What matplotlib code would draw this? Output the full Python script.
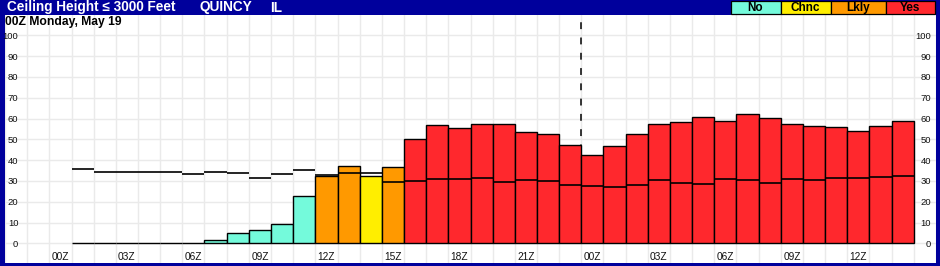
import numpy as np
import matplotlib
matplotlib.use("Agg")
import matplotlib.pyplot as plt
import matplotlib.transforms as mtransforms
from matplotlib.patches import Rectangle

plt.rcParams['font.family'] = ['Liberation Sans', 'DejaVu Sans']

# ---------------- data ----------------
hours = list(range(39))  # forecast hours from 00Z Monday
prob = [np.nan, 0, 0, 0, 0, 0, 0, 1.4, 4.8, 6.5, 9.1, 22.6,
        32.5, 37.0, 32.2, 36.5, 50.0, 56.7, 55.3, 57.2, 57.2, 53.4, 52.4, 47.1,
        42.3, 46.6, 52.4, 57.2, 58.2, 60.6, 58.7, 62.0, 60.1, 57.2, 56.3, 55.8,
        53.8, 56.3, 58.7]
second = [np.nan, 35.6, 34.1, 34.1, 34.1, 34.1, 33.2, 34.1, 33.6, 31.2, 33.2, 35.1,
          32.9, 33.8, 33.8, 29.3, 30.0, 30.8, 30.8, 31.2, 29.3, 30.3, 29.8, 27.9,
          27.4, 26.9, 27.9, 30.3, 28.8, 28.4, 30.8, 30.3, 28.8, 30.8, 30.3, 31.2,
          31.2, 31.7, 32.2]
category = [None] + ['No'] * 11 + ['Lkly', 'Lkly', 'Chnc', 'Lkly'] + ['Yes'] * 23
tick_hours = [0, 3, 6, 9, 12, 15, 18, 21, 24, 27, 30, 33, 36]
tick_labels = ['00Z', '03Z', '06Z', '09Z', '12Z', '15Z', '18Z', '21Z',
               '00Z', '03Z', '06Z', '09Z', '12Z']
y_ticks = [0, 10, 20, 30, 40, 50, 60, 70, 80, 90, 100]
legend_names = ['No', 'Chnc', 'Lkly', 'Yes']
title = 'Ceiling Height \u2264 3000 Feet'
station = 'QUINCY'
state = 'IL'
subtitle = '00Z Monday, May 19'
day_break = 23.5

colors = {'No': '#74FADB', 'Chnc': '#FFEE00', 'Lkly': '#FF9900', 'Yes': '#FF282D'}

# ---------------- figure ----------------
W, H = 940, 266
fig = plt.figure(figsize=(W / 100, H / 100), dpi=100)
fig.patch.set_facecolor('#00009C')

def px(x0, y0, x1, y1):
    return [x0 / W, 1 - y1 / H, (x1 - x0) / W, (y1 - y0) / H]

ax = fig.add_axes(px(5, 15, 936, 263))
ax.set_facecolor('white')

x_left_px, x_right_px = 5, 936
x0px, hour_px = 59.86, 22.27
ax.set_xlim((x_left_px - x0px) / hour_px, (x_right_px - x0px) / hour_px)
y0px, unit_px = 243.3, 2.08
ax.set_ylim((y0px - 263) / unit_px, (y0px - 15) / unit_px)

for s in ax.spines.values():
    s.set_visible(False)

# grid
ax.set_xticks(np.arange(-2.5, 40, 1.0), minor=True)
ax.set_yticks(y_ticks)
ax.grid(True, which='minor', axis='x', color='#EAEAEA', lw=1.0)
ax.grid(True, which='major', axis='y', color='#EAEAEA', lw=1.0)
ax.set_axisbelow(True)

# day break dashed line
ax.vlines(day_break, 0, 106.5, colors='black', lw=1.1,
          linestyles=[(0, (4.5, 5.5))], zorder=1.5)

# bars
valid = [i for i in range(len(hours)) if not np.isnan(prob[i])]
ax.bar([hours[i] for i in valid], [prob[i] for i in valid], width=1.0,
       color=[colors[category[i]] for i in valid], edgecolor='black',
       linewidth=1.0, zorder=2)

# secondary level lines
hs = np.array(hours, dtype=float)
sec = np.array(second)
m = ~np.isnan(sec)
ax.hlines(sec[m], hs[m] - 0.5, hs[m] + 0.5, colors='black', lw=1.2, zorder=3)

# x tick labels
ax.set_xticks(tick_hours)
ax.set_xticklabels(tick_labels)
ax.tick_params(axis='x', which='both', length=0, pad=-7.6, labelsize=7.3,
               labelcolor='#111111')

# y tick labels both sides, inside
ax.tick_params(axis='y', which='both', length=0, labelsize=6.8,
               left=True, right=True, labelleft=True, labelright=True,
               labelcolor='#111111')
for t in ax.yaxis.get_major_ticks():
    t.set_pad(-9.6)
    t.label1.set_horizontalalignment('right')
    t.label2.set_horizontalalignment('right')
# right labels end near 931 px: anchor = 936 + 13.3 (pad) -> shift left by 18.3px? no:
# with negative pad label2 anchor sits 13.3px left of the axes edge (922.7); shift right 8.3px
offset_r = mtransforms.ScaledTranslation(8.3 / 100, 0, fig.dpi_scale_trans)
for t in ax.yaxis.get_major_ticks():
    t.label2.set_transform(t.label2.get_transform() + offset_r)

def ftext(x, y, s, **kw):
    fig.text(x / W, 1 - y / H, s, **kw)

ftext(7, 7.5, title, color='white', fontsize=9.8, fontweight='bold',
      va='center', ha='left')
ftext(199, 7.5, station, color='white', fontsize=9.8, fontweight='bold',
      va='center', ha='left')
ftext(270, 7.5, state, color='white', fontsize=9.8, fontweight='bold',
      va='center', ha='left')

# legend boxes
edges = [730.5, 780.5, 830.5, 885.5, 935]
for i, name in enumerate(legend_names):
    x0b, x1b = edges[i], edges[i + 1]
    r = Rectangle((x0b / W, 1 - 14 / H), (x1b - x0b) / W, 13 / H,
                  transform=fig.transFigure, facecolor=colors[name],
                  edgecolor='black', lw=0.9)
    fig.patches.append(r)
    ftext((x0b + x1b) / 2, 7.6, name, color='black', fontsize=8.5,
          fontweight='bold', va='center', ha='center')

# subtitle
ftext(5, 21.5, subtitle, color='black', fontsize=8.7, fontweight='bold',
      va='center', ha='left')

fig.savefig('out.png', dpi=100, facecolor=fig.get_facecolor())
